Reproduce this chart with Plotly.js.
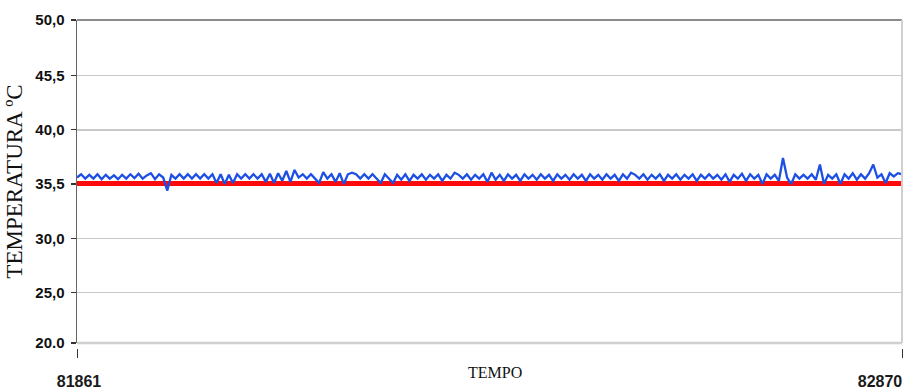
<!DOCTYPE html>
<html>
<head>
<meta charset="utf-8">
<script src="https://cdn.plot.ly/plotly-3.0.1.min.js"></script>
<style>html,body{margin:0;padding:0;background:#fff;}#chart{width:905px;height:390px;}</style>
</head>
<body>
<div id="chart"></div>
<script>
// Time span (TEMPO)
const TEMPO_INICIO = 81861;
const TEMPO_FIM = 82870;
const TEMPO_TICK_INICIO = [81861];
const TEMPO_TICK_INICIO_LABEL = ['81861'];
const TEMPO_TICK_FIM = [82870];
const TEMPO_TICK_FIM_LABEL = ['82870'];

// Y axis: printed range ends and ticks (labels as printed in the original)
const TEMP_MIN = 20.35;
const TEMP_MAX = 50.12;
const TEMP_TICKS = [20.35, 25, 30, 35, 40, 45, 50.12];
const TEMP_TICK_LABELS = ['20.0', '25,0', '30,0', '35,5', '40,0', '45,5', '50,0'];

// Reference temperature (red line)
const TEMPO_REFERENCIA = [81861, 82870];
const TEMP_REFERENCIA = [35.05, 35.05];

// Measured temperature (blue line), evenly sampled over the time span
const TEMP_MEDIDA = [
  35.6, 35.9, 35.5, 35.85, 35.5, 35.9, 35.45, 35.85, 35.5, 35.8,
  35.45, 35.85, 35.5, 35.9, 35.55, 35.95, 35.5, 35.8, 36.0, 35.45,
  35.9, 35.6, 34.4, 35.85, 35.5, 35.9, 35.5, 35.9, 35.5,
  35.9, 35.5, 35.9, 35.5, 35.9,
  35.1, 35.9, 35.0, 35.85, 35.1, 35.9,
  35.5, 35.9, 35.5, 35.9, 35.5, 35.9,
  35.2, 35.95, 35.1, 36.0, 35.3, 36.2, 35.2, 36.3, 35.6,
  35.9, 35.5, 35.9, 35.5,
  35.1, 36.1, 35.5, 35.9, 35.2, 36.0, 35.0, 35.9, 36.05,
  35.9, 35.5, 35.9, 35.5, 35.9, 35.5,
  35.1, 35.9, 35.5, 35.1, 35.85, 35.4, 35.9, 35.3, 35.85, 35.5, 35.9, 35.4, 35.85, 35.5, 35.9,
  35.3, 35.85, 35.5, 36.05, 35.85, 35.5, 35.9, 35.4, 35.85, 35.5,
  35.9, 35.2, 36.05, 35.4, 35.85, 35.3, 35.9, 35.5, 35.85, 35.3,
  35.9, 35.5, 35.85, 35.4, 35.9, 35.5, 35.85, 35.3, 35.9,
  35.5, 35.85, 35.4, 35.9, 35.5, 35.85, 35.3, 35.9, 35.5, 35.85,
  35.4, 35.9, 35.5, 35.85, 35.3, 35.9, 35.5, 36.05, 35.85, 35.5,
  35.9, 35.4, 35.85, 35.5, 35.9, 35.3, 35.85, 35.5, 35.9,
  35.4, 35.85, 35.5, 35.9, 35.3, 35.85, 35.5, 35.9, 35.5, 35.85,
  35.4, 35.9, 35.2, 35.85, 35.5, 35.95, 35.3, 35.9, 35.5, 35.85,
  35.0, 35.9, 35.5, 35.85, 35.3, 37.4, 35.6, 35.0, 35.9,
  35.5, 35.85, 35.5, 35.9, 35.4, 36.8, 35.0, 35.85, 35.5, 35.9,
  35.0, 35.9, 35.5, 36.0, 35.4, 35.9, 35.5, 36.0, 36.8, 35.6,
  35.9, 35.1, 36.0, 35.7, 36.0, 35.9
];

const n = TEMP_MEDIDA.length;
const TEMPO_MEDIDA = TEMP_MEDIDA.map((_, i) => TEMPO_INICIO + i * (TEMPO_FIM - TEMPO_INICIO) / (n - 1));

const data = [
  {
    x: TEMPO_REFERENCIA, y: TEMP_REFERENCIA, type: 'scatter', mode: 'lines',
    xaxis: 'x', yaxis: 'y',
    line: { color: '#ff0a0a', width: 5 }, hoverinfo: 'skip', showlegend: false
  },
  {
    x: TEMPO_MEDIDA, y: TEMP_MEDIDA, type: 'scatter', mode: 'lines',
    xaxis: 'x2', yaxis: 'y',
    line: { color: '#1d4fe3', width: 2.3 }, showlegend: false
  }
];

const H = 390, T = 20, B = 42;
const paperH = H - T - B;
const domBottom = 5 / paperH;

const tickFontX = { family: 'Liberation Sans, Arial, sans-serif', size: 16, weight: 'bold', color: '#1a1a1a' };
const xCommon = {
  range: [TEMPO_INICIO, TEMPO_FIM],
  anchor: 'free', position: 0,
  showgrid: false, zeroline: false, showline: false,
  tickmode: 'array',
  ticks: 'outside', ticklen: 9, tickwidth: 1, tickcolor: '#333',
  ticklabelstandoff: 10, ticklabeloverflow: 'allow',
  tickfont: tickFontX,
  automargin: false
};

const layout = {
  width: 905, height: 390,
  margin: { l: 77, r: 3, t: T, b: B, pad: 0 },
  paper_bgcolor: '#ffffff', plot_bgcolor: '#ffffff',
  showlegend: false,
  xaxis: Object.assign({}, xCommon, {
    tickvals: TEMPO_TICK_INICIO, ticktext: TEMPO_TICK_INICIO_LABEL, ticklabelshift: 2
  }),
  xaxis2: Object.assign({}, xCommon, {
    overlaying: 'x', matches: 'x', side: 'bottom',
    tickvals: TEMPO_TICK_FIM, ticktext: TEMPO_TICK_FIM_LABEL, ticklabelshift: -22
  }),
  yaxis: {
    domain: [domBottom, 1],
    range: [TEMP_MIN, TEMP_MAX],
    tickmode: 'array', tickvals: TEMP_TICKS, ticktext: TEMP_TICK_LABELS,
    showline: true, linecolor: '#666', linewidth: 1.5,
    showgrid: true, gridcolor: '#c9c9c9', gridwidth: 1.5,
    zeroline: false,
    ticks: 'outside', ticklen: 5, tickwidth: 1.2, tickcolor: '#333',
    ticklabelstandoff: 3,
    tickfont: { family: 'Liberation Sans, Arial, sans-serif', size: 15, weight: 'bold', color: '#111' },
    title: { text: 'TEMPERATURA ºC', standoff: 6,
      font: { family: 'Liberation Serif, Times New Roman, serif', size: 23, color: '#111' } },
    automargin: false
  },
  shapes: [
    { type: 'line', xref: 'x domain', yref: 'y domain', x0: 0, x1: 1, y0: 1, y1: 1,
      line: { color: '#666', width: 1.5 } },
    { type: 'line', xref: 'x domain', yref: 'y domain', x0: 1, x1: 1, y0: 0, y1: 1,
      line: { color: '#d0d0d0', width: 2 } },
    { type: 'line', xref: 'x domain', yref: 'y domain', x0: 0, x1: 1, y0: 0, y1: 0,
      line: { color: '#d0d0d0', width: 2.5 } }
  ],
  annotations: [
    { text: 'TEMPO', xref: 'paper', yref: 'paper', x: 0.507, y: -(372 - (H - B)) / paperH,
      xanchor: 'center', yanchor: 'middle', showarrow: false,
      font: { family: 'Liberation Serif, Times New Roman, serif', size: 16, color: '#111' } }
  ]
};

Plotly.newPlot('chart', data, layout, { displayModeBar: false, staticPlot: true });
</script>
</body>
</html>
